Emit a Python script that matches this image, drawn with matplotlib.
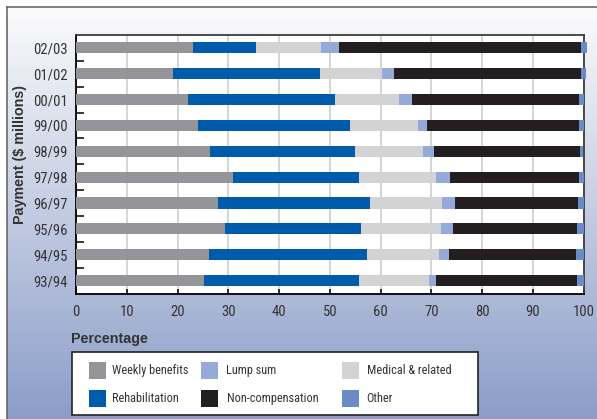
import numpy as np
import matplotlib
matplotlib.use("Agg")
import matplotlib.pyplot as plt
from matplotlib.patches import Rectangle
from matplotlib.colors import to_rgb
from matplotlib import font_manager

# Financial years, top to bottom
years = ["02/03", "01/02", "00/01", "99/00", "98/99",
         "97/98", "96/97", "95/96", "94/95", "93/94"]

# Share of payments (%) by category
weekly_benefits = [23.1, 19.1, 22.1, 24.1, 26.4, 31.0, 28.0, 29.4, 26.2, 25.2]
rehabilitation = [12.4, 29.0, 29.0, 29.9, 28.6, 24.8, 30.0, 26.8, 31.2, 30.6]
medical_related = [12.8, 12.1, 12.6, 13.3, 13.3, 15.2, 14.2, 15.8, 14.2, 13.8]
lump_sum = [3.6, 2.5, 2.6, 1.9, 2.3, 2.6, 2.4, 2.2, 1.8, 1.4]
non_compensation = [47.7, 36.9, 32.8, 29.9, 28.8, 25.5, 24.3, 24.5, 25.1, 27.7]
other = [1.1, 0.9, 0.9, 0.9, 0.6, 0.9, 1.1, 1.3, 1.5, 1.3]

x_ticks = [0, 10, 20, 30, 40, 50, 60, 70, 80, 90, 100]

series = [
    ("Weekly benefits", weekly_benefits, "#939598"),
    ("Rehabilitation", rehabilitation, "#005BAA"),
    ("Medical & related", medical_related, "#D1D3D4"),
    ("Lump sum", lump_sum, "#95AAD8"),
    ("Non-compensation", non_compensation, "#231F20"),
    ("Other", other, "#6B8BC6"),
]

# Prefer a condensed face when one is installed
installed = {f.name for f in font_manager.fontManager.ttflist}
narrow_candidates = ["Liberation Sans Narrow", "Roboto Condensed",
                     "Open Sans Condensed", "Noto Sans Display",
                     "DejaVu Sans Condensed"]
narrow = [n for n in narrow_candidates if n in installed]
condensed = bool(narrow)
NARROW = (narrow[:1] if narrow else ["Liberation Sans"]) + ["DejaVu Sans"]
BOLD = ["Liberation Sans", "DejaVu Sans"]
TEXT = "#333333"
tick_fs = 10.5 if condensed else 9.6
legend_fs = 8.8 if condensed else 8.0

W, H = 597, 419
fig = plt.figure(figsize=(W / 100, H / 100), dpi=100, facecolor="white")


def fx(x):
    return x / W


def fy(y):
    return 1 - y / H


# Gradient panel behind everything
left_px, top_px = 6.5, 7.5
bg = fig.add_axes([fx(left_px), 0, 1 - fx(left_px), fy(top_px)], zorder=-10)
c_top = np.array(to_rgb("#fbfbfb"))
c_bot = np.array(to_rgb("#8b9dc8"))
t = np.linspace(0, 1, 256)[:, None]
grad = (c_top * (1 - t) + c_bot * t)[:, None, :]
bg.imshow(grad, aspect="auto", extent=[0, 1, 0, 1], origin="upper")
bg.set_xticks([])
bg.set_yticks([])
for side in ["right", "bottom"]:
    bg.spines[side].set_visible(False)
for side in ["left", "top"]:
    bg.spines[side].set_color("#5e5e5e")
    bg.spines[side].set_linewidth(1.1)

# Main chart
ax_l, ax_r, ax_t, ax_b = 76, 583.5, 35, 293.5
ax = fig.add_axes([fx(ax_l), fy(ax_b), fx(ax_r - ax_l), (ax_b - ax_t) / H])
ax.set_facecolor("white")

ypos = np.arange(len(years))
left = np.zeros(len(years))
for name, vals, col in series:
    vals = np.array(vals)
    ax.barh(ypos, vals, left=left, height=0.43, color=col, zorder=3,
            clip_on=False, linewidth=0)
    left += vals

ax.set_xlim(0, 100)
ax.set_ylim(len(years) - 0.5, -0.5)
ax.set_xticks(x_ticks)
ax.set_xticklabels([str(v) for v in x_ticks], family=NARROW, fontsize=tick_fs,
                   color=TEXT)
ax.set_yticks(ypos)
ax.set_yticklabels(years, family=NARROW, fontsize=tick_fs, color=TEXT)
ax.set_yticks(ypos[:-1] + 0.5, minor=True)
ax.tick_params(axis="y", which="major", length=0, pad=6)
ax.tick_params(axis="y", which="minor", direction="in", length=5.5,
               width=1.1, color="black")
ax.tick_params(axis="x", which="major", direction="in", length=3.8,
               width=1.1, color="black", pad=8.5)
ax.grid(axis="x", color="#c9c9c9", linewidth=1.1, zorder=1)
ax.set_axisbelow(True)
for side in ["left", "bottom"]:
    ax.spines[side].set_color("black")
    ax.spines[side].set_linewidth(1.3)
for side in ["top", "right"]:
    ax.spines[side].set_color("#3c3c3c")
    ax.spines[side].set_linewidth(1.3)

# Axis titles
fig.text(fx(20), fy(154), "Payment ($ millions)", rotation=90,
         ha="center", va="center", fontsize=10.3, fontweight="bold",
         family=BOLD, color=TEXT)
fig.text(fx(71.5), fy(339), "Percentage", ha="left", va="center",
         fontsize=10.3, fontweight="bold", family=BOLD, color=TEXT)

# Legend box
lg_l, lg_r, lg_t, lg_b = 71.7, 477.7, 352, 415
fig.add_artist(Rectangle((fx(lg_l), fy(lg_b)), fx(lg_r - lg_l),
                         (lg_b - lg_t) / H, facecolor="white",
                         edgecolor="#222222", linewidth=1.2,
                         transform=fig.transFigure))

col_patch_x = [89, 201, 342]
col_text_x = [112.3, 226.5, 366.6]
row_cy = [370.7, 398.3]
layout = {
    "Weekly benefits": (0, 0), "Rehabilitation": (0, 1),
    "Lump sum": (1, 0), "Non-compensation": (1, 1),
    "Medical & related": (2, 0), "Other": (2, 1),
}
sq = 17
for name, vals, col in series:
    c, r = layout[name]
    cy = row_cy[r]
    fig.add_artist(Rectangle((fx(col_patch_x[c]), fy(cy + sq / 2)),
                             fx(sq), sq / H, facecolor=col, edgecolor="none",
                             transform=fig.transFigure))
    fig.text(fx(col_text_x[c]), fy(cy), name, ha="left", va="center",
             fontsize=legend_fs, family=NARROW, color=TEXT)

fig.savefig("out.png", dpi=100, facecolor="white")
